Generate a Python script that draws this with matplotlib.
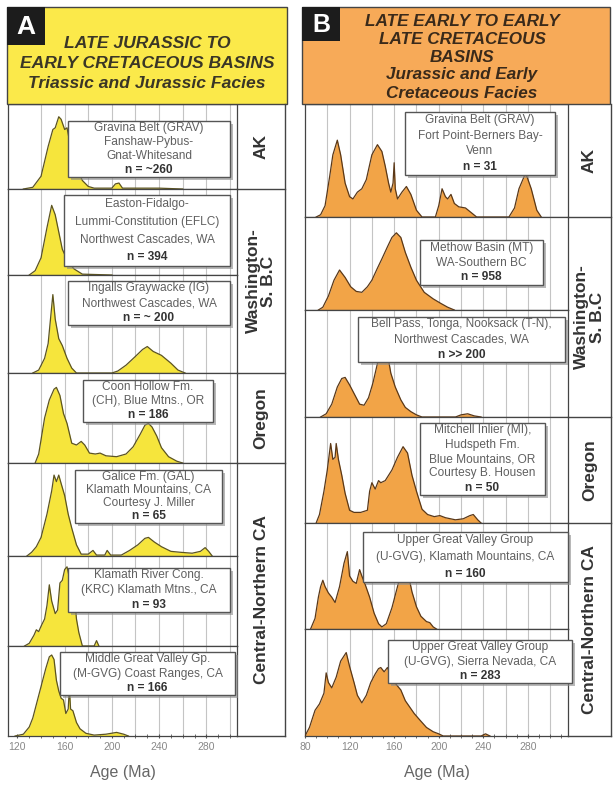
import matplotlib
matplotlib.use("Agg")
import matplotlib.pyplot as plt
from matplotlib.patches import Rectangle

plt.rcParams['font.family'] = ['Liberation Sans', 'DejaVu Sans']

# ---- panel A samples: (age Ma, relative density)
a_grav_age = [125, 133, 140, 146, 150, 152, 155, 157, 160, 162, 165, 170, 175, 180, 185, 200, 203, 206, 209, 240, 260]
a_grav_den = [0, 0.02, 0.15, 0.5, 0.7, 0.72, 0.85, 0.82, 0.7, 0.72, 0.5, 0.25, 0.1, 0.03, 0.01, 0.01, 0.06, 0.07, 0.01, 0.01, 0]
a_eflc_age = [130, 135, 140, 145, 149, 152, 155, 158, 163, 168, 175, 200]
a_eflc_den = [0, 0.05, 0.2, 0.55, 0.81, 0.7, 0.5, 0.3, 0.15, 0.07, 0.01, 0]
a_ig_age = [133, 138, 143, 146, 148, 150, 152, 155, 158, 162, 166, 170, 200, 205, 212, 220, 226, 230, 235, 242, 250, 256, 262]
a_ig_den = [0, 0.03, 0.15, 0.3, 0.55, 0.8, 0.55, 0.35, 0.28, 0.15, 0.05, 0, 0, 0.02, 0.08, 0.17, 0.24, 0.27, 0.22, 0.18, 0.1, 0.03, 0]
a_ch_age = [135, 138, 143, 147, 151, 153, 156, 159, 162, 166, 170, 174, 177, 181, 186, 190, 195, 204, 212, 218, 224, 228, 231, 234, 238, 242, 248, 255, 260]
a_ch_den = [0, 0.1, 0.5, 0.7, 0.82, 0.84, 0.75, 0.55, 0.44, 0.22, 0.2, 0.24, 0.2, 0.11, 0.1, 0.11, 0.08, 0.07, 0.1, 0.18, 0.32, 0.42, 0.44, 0.4, 0.3, 0.17, 0.07, 0.02, 0]
a_gal_age = [128, 132, 136, 140, 145, 149, 151, 153, 155, 157, 160, 163, 166, 170, 174, 180, 184, 187, 194, 196, 199, 208, 215, 222, 228, 231, 236, 242, 250, 258, 268, 275, 279, 282, 285]
a_gal_den = [0, 0.04, 0.1, 0.2, 0.45, 0.7, 0.87, 0.8, 0.87, 0.78, 0.65, 0.45, 0.3, 0.12, 0.02, 0.02, 0.06, 0.01, 0.01, 0.06, 0.01, 0.01, 0.06, 0.12, 0.19, 0.2, 0.15, 0.1, 0.05, 0.04, 0.03, 0.05, 0.09, 0.05, 0]
a_krc_age = [126, 130, 134, 136, 138, 140, 143, 145, 147, 149, 152, 154, 156, 158, 160, 162, 165, 168, 170, 172, 175, 185, 187, 189]
a_krc_den = [0, 0.03, 0.12, 0.18, 0.16, 0.22, 0.3, 0.45, 0.68, 0.5, 0.36, 0.4, 0.7, 0.73, 0.85, 0.88, 0.7, 0.6, 0.3, 0.15, 0, 0, 0.06, 0]
a_mgvg_age = [118, 125, 130, 133, 137, 140, 144, 147, 149, 151, 153, 155, 157, 159, 161, 163, 164, 165, 167, 170, 173, 178, 185, 195, 204, 210, 214]
a_mgvg_den = [0, 0.02, 0.1, 0.2, 0.4, 0.55, 0.75, 0.88, 0.9, 0.85, 0.62, 0.5, 0.42, 0.4, 0.25, 0.3, 0.54, 0.3, 0.28, 0.15, 0.08, 0.03, 0.01, 0.02, 0.04, 0.02, 0]

# ---- panel B samples
b_grav_age = [90, 94, 98, 102, 105, 109, 112, 116, 120, 123, 127, 131, 135, 140, 145, 149, 152, 155, 157, 159, 160, 161, 163, 167, 171, 175, 180, 185, 197, 200, 203, 206, 208, 211, 214, 218, 224, 229, 234, 263, 268, 272, 278, 283, 288, 292]
b_grav_den = [0, 0.02, 0.1, 0.35, 0.55, 0.68, 0.55, 0.3, 0.18, 0.16, 0.22, 0.25, 0.33, 0.55, 0.64, 0.58, 0.45, 0.3, 0.22, 0.3, 0.48, 0.25, 0.16, 0.22, 0.27, 0.2, 0.06, 0, 0, 0.1, 0.25, 0.18, 0.16, 0.2, 0.12, 0.09, 0.08, 0.04, 0, 0, 0.08, 0.25, 0.39, 0.25, 0.06, 0]
b_mt_age = [92, 96, 101, 106, 111, 116, 121, 126, 131, 136, 140, 145, 149, 154, 158, 162, 166, 170, 175, 180, 187, 195, 202, 208, 214]
b_mt_den = [0, 0.03, 0.15, 0.32, 0.43, 0.35, 0.25, 0.2, 0.19, 0.25, 0.32, 0.45, 0.55, 0.68, 0.78, 0.83, 0.78, 0.62, 0.46, 0.32, 0.19, 0.12, 0.07, 0.03, 0]
b_tn_age = [94, 99, 104, 109, 113, 116, 120, 125, 129, 133, 137, 141, 145, 148, 150, 153, 157, 161, 166, 170, 175, 180, 185, 215, 220, 226, 232, 238]
b_tn_den = [0, 0.03, 0.12, 0.28, 0.36, 0.37, 0.3, 0.2, 0.12, 0.11, 0.18, 0.32, 0.5, 0.7, 0.75, 0.65, 0.41, 0.28, 0.16, 0.09, 0.05, 0.02, 0, 0, 0.02, 0.03, 0.01, 0]
b_mi_age = [90, 93, 97, 100, 103, 105, 107, 108, 110, 113, 116, 120, 124, 130, 136, 138, 140, 143, 146, 148, 152, 158, 163, 168, 172, 176, 180, 185, 190, 196, 201, 206, 215, 222, 228, 231, 235, 238]
b_mi_den = [0, 0.08, 0.3, 0.5, 0.75, 0.6, 0.62, 0.75, 0.6, 0.45, 0.28, 0.12, 0.1, 0.1, 0.12, 0.3, 0.38, 0.32, 0.4, 0.38, 0.4, 0.5, 0.62, 0.72, 0.66, 0.45, 0.3, 0.13, 0.08, 0.06, 0.07, 0.05, 0.03, 0.04, 0.07, 0.08, 0.03, 0]
b_ugk_age = [85, 89, 92, 94, 96, 98, 101, 104, 107, 111, 115, 118, 120, 123, 126, 129, 131, 134, 138, 142, 146, 149, 153, 158, 163, 167, 169, 172, 176, 180, 184, 189, 192, 195, 198]
b_ugk_den = [0, 0.1, 0.3, 0.4, 0.46, 0.4, 0.34, 0.3, 0.25, 0.4, 0.62, 0.73, 0.5, 0.45, 0.43, 0.56, 0.5, 0.42, 0.3, 0.15, 0.05, 0.02, 0.05, 0.2, 0.4, 0.56, 0.6, 0.55, 0.35, 0.21, 0.12, 0.07, 0.06, 0.02, 0]
b_ugs_age = [80, 84, 89, 93, 97, 99, 101, 104, 108, 112, 117, 120, 124, 127, 131, 135, 139, 143, 146, 148, 151, 154, 158, 162, 166, 170, 174, 178, 183, 189, 195, 200, 204, 238, 242, 246]
b_ugs_den = [0, 0.08, 0.24, 0.3, 0.4, 0.59, 0.5, 0.45, 0.55, 0.7, 0.78, 0.65, 0.5, 0.38, 0.31, 0.38, 0.5, 0.58, 0.63, 0.64, 0.6, 0.64, 0.55, 0.48, 0.43, 0.33, 0.27, 0.21, 0.15, 0.08, 0.04, 0.02, 0, 0, 0.02, 0]

a_rows = [(a_grav_age, a_grav_den), (a_eflc_age, a_eflc_den), (a_ig_age, a_ig_den), (a_ch_age, a_ch_den),
          (a_gal_age, a_gal_den), (a_krc_age, a_krc_den), (a_mgvg_age, a_mgvg_den)]
b_rows = [(b_grav_age, b_grav_den), (b_mt_age, b_mt_den), (b_tn_age, b_tn_den), (b_mi_age, b_mi_den),
          (b_ugk_age, b_ugk_den), (b_ugs_age, b_ugs_den)]

a_notes = [["Gravina Belt (GRAV)", "Fanshaw-Pybus-", "Gnat-Whitesand", "n = ~260"],
           ["Easton-Fidalgo-", "Lummi-Constitution (EFLC)", "Northwest Cascades, WA", "n = 394"],
           ["Ingalls Graywacke (IG)", "Northwest Cascades, WA", "n = ~ 200"],
           ["Coon Hollow Fm.", "(CH), Blue Mtns., OR", "n = 186"],
           ["Galice Fm. (GAL)", "Klamath Mountains, CA", "Courtesy J. Miller", "n = 65"],
           ["Klamath River Cong.", "(KRC) Klamath Mtns., CA", "n = 93"],
           ["Middle Great Valley Gp.", "(M-GVG) Coast Ranges, CA", "n = 166"]]
b_notes = [["Gravina Belt (GRAV)", "Fort Point-Berners Bay-", "Venn", "n = 31"],
           ["Methow Basin (MT)", "WA-Southern BC", "n = 958"],
           ["Bell Pass, Tonga, Nooksack (T-N),", "Northwest Cascades, WA", "n >> 200"],
           ["Mitchell Inlier (MI),", "Hudspeth Fm.", "Blue Mountains, OR", "Courtesy B. Housen", "n = 50"],
           ["Upper Great Valley Group", "(U-GVG), Klamath Mountains, CA", "n = 160"],
           ["Upper Great Valley Group", "(U-GVG), Sierra Nevada, CA", "n = 283"]]

a_regions = ["AK", "Washington-\nS. B.C", "Oregon", "Central-Northern CA"]
b_regions = ["AK", "Washington-\nS. B.C", "Oregon", "Central-Northern CA"]
a_ticks = [120, 160, 200, 240, 280]
b_ticks = [80, 120, 160, 200, 240, 280]

W, H = 616, 786
fig = plt.figure(figsize=(W / 100, H / 100), dpi=100)


def px_axes(x0, y0, x1, y1):
    return fig.add_axes([x0 / W, 1 - y1 / H, (x1 - x0) / W, (y1 - y0) / H])


def draw_panel(rows, x0, x1, tops, bots, xlim, grid, ticks, fill, edge):
    axs = []
    for i, (age, den) in enumerate(rows):
        ax = px_axes(x0, tops[i], x1, bots[i])
        ax.set_xlim(*xlim)
        ax.set_ylim(0, 1)
        for g in grid:
            ax.axvline(g, color="#c4c4c4", lw=0.8, zorder=0)
        ax.fill_between(age, den, 0, color=fill, lw=0, zorder=2)
        ax.plot(age, den, color=edge, lw=0.9, zorder=3)
        for s in ax.spines.values():
            s.set_color("#444444")
            s.set_linewidth(0.9)
        ax.set_yticks([])
        if i == len(rows) - 1:
            ax.set_xticks(ticks)
            ax.set_xticks(range(xlim[0] // 10 * 10 + 10, xlim[1], 10), minor=True)
            ax.tick_params(axis="x", which="both", direction="inout", length=3, color="#555555",
                           labelsize=7.5, labelcolor="#888888", pad=3)
        else:
            ax.set_xticks([])
        axs.append(ax)
    return axs


a_tops = [104, 189, 275, 373, 463, 556, 646]
a_bots = [189, 275, 373, 463, 556, 646, 736]
b_tops = [104, 217, 310, 417, 523, 629]
b_bots = [217, 310, 417, 523, 629, 736]

axA = draw_panel(a_rows, 8, 237, a_tops, a_bots, (112, 306), range(140, 301, 20), a_ticks,
                 "#f6e53c", "#5c5420")
axB = draw_panel(b_rows, 305, 568, b_tops, b_bots, (80, 316), range(100, 301, 20), b_ticks,
                 "#f2a447", "#5a3818")
axA[-1].set_xlabel("Age (Ma)", fontsize=11.5, color="#666666", labelpad=9)
axB[-1].set_xlabel("Age (Ma)", fontsize=11.5, color="#666666", labelpad=9)

# overlay in pixel coordinates for headers, labels and note boxes
ov = fig.add_axes([0, 0, 1, 1])
ov.set_xlim(0, W)
ov.set_ylim(H, 0)
ov.axis("off")
ov.set_zorder(10)

hdr = dict(ha="center", va="center", fontweight="bold", style="italic")

# headers
ov.add_patch(Rectangle((7, 7), 280, 97, fc="#fbe94a", ec="#444444", lw=1))
ov.add_patch(Rectangle((7, 7), 38, 38, fc="#1c1c1c", ec="none"))
ov.text(26, 27, "A", color="white", fontsize=19, fontweight="bold", ha="center", va="center")
for y, t in zip([43, 63, 83], ["LATE JURASSIC TO", "EARLY CRETACEOUS BASINS", "Triassic and Jurassic Facies"]):
    ov.text(147, y, t, fontsize=12.6, color="#3a3626", **hdr)

ov.add_patch(Rectangle((302, 7), 308, 97, fc="#f7aa58", ec="#444444", lw=1))
ov.add_patch(Rectangle((302, 7), 38, 34, fc="#1c1c1c", ec="none"))
ov.text(321, 25, "B", color="white", fontsize=18, fontweight="bold", ha="center", va="center")
for y, t in zip([22, 40, 57, 75, 93], ["LATE EARLY TO EARLY", "LATE CRETACEOUS", "BASINS",
                                       "Jurassic and Early", "Cretaceous Facies"]):
    ov.text(462, y, t, fontsize=12.3, color="#3a2a1a", **hdr)

# region label columns
for (xl, xr, seps, regions, spans) in [
        (237, 285, [189, 373, 463], a_regions, [(104, 189), (189, 373), (373, 463), (463, 736)]),
        (568, 611, [217, 417, 523], b_regions, [(104, 217), (217, 417), (417, 523), (523, 736)])]:
    ov.plot([xr, xr], [104, 736], color="#444444", lw=1)
    ov.plot([xl, xr], [736, 736], color="#444444", lw=1)
    for s in seps:
        ov.plot([xl, xr], [s, s], color="#444444", lw=1)
    for lab, (y0, y1) in zip(regions, spans):
        ov.text((xl + xr) / 2, (y0 + y1) / 2, lab, rotation=90, ha="center", va="center",
                fontsize=12.5, fontweight="bold", color="#333333", linespacing=1.05)


def note(x0, y0, x1, y1, lines):
    ov.add_patch(Rectangle((x0 + 3, y0 + 3), x1 - x0, y1 - y0, fc="#8a8a8a", ec="none", alpha=0.6))
    ov.add_patch(Rectangle((x0, y0), x1 - x0, y1 - y0, fc="white", ec="#555555", lw=1))
    step = (y1 - y0) / len(lines)
    for k, t in enumerate(lines):
        last = k == len(lines) - 1
        ov.text((x0 + x1) / 2, y0 + step * (k + 0.5), t, ha="center", va="center", fontsize=8.6,
                color="#333333" if last else "#606060", fontweight="bold" if last else "normal")


a_boxes = [(68, 121, 230, 177), (64, 195, 230, 266), (68, 281, 230, 325), (83, 380, 213, 422),
           (75, 470, 222, 523), (68, 568, 230, 612), (60, 652, 235, 695)]
b_boxes = [(405, 112, 555, 175), (420, 240, 543, 285), (358, 317, 565, 362), (420, 423, 545, 495),
           (363, 532, 568, 582), (388, 640, 572, 683)]
for bx, lines in zip(a_boxes, a_notes):
    note(*bx, lines)
for bx, lines in zip(b_boxes, b_notes):
    note(*bx, lines)

fig.savefig("out.png", dpi=100)
